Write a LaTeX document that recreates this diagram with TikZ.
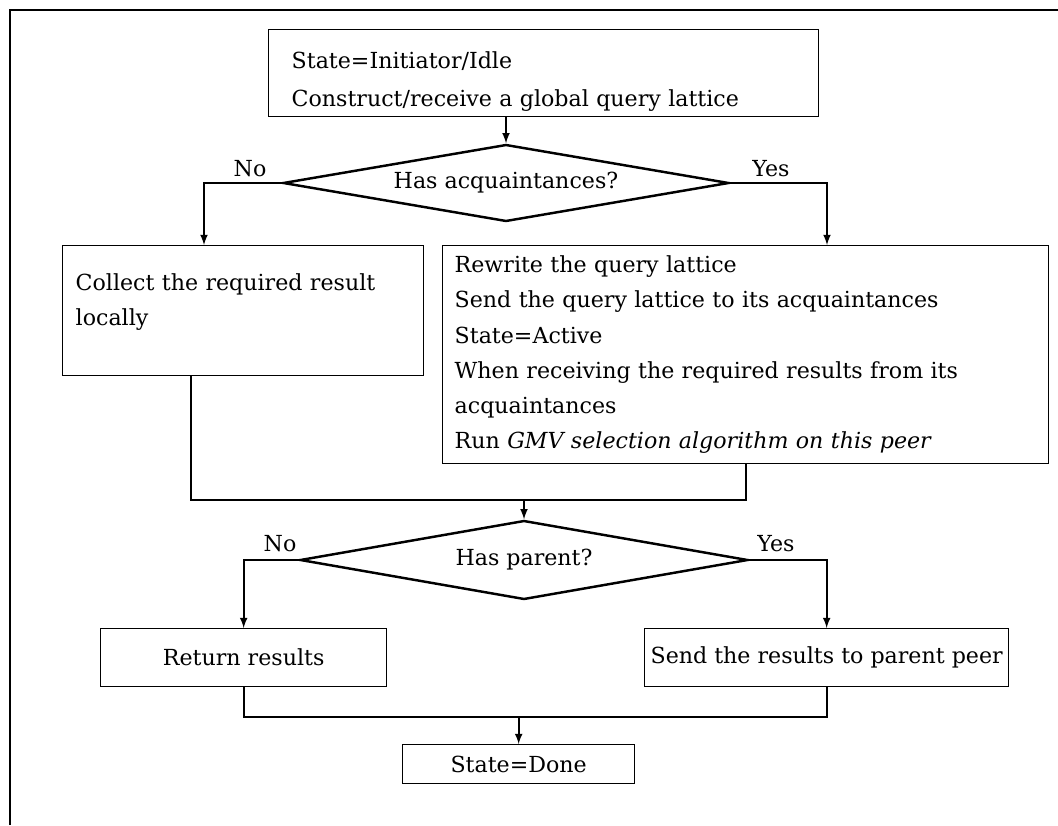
\documentclass[tikz,border=0pt]{standalone}
\usepackage{fontspec}
\setmainfont{DejaVu Serif}
\usetikzlibrary{positioning, shapes.geometric, arrows}

\begin{document}
\begin{tikzpicture}[x=0.02cm, y=-0.02cm,
  box/.style = {draw, line width=0.8pt, anchor=north west, align=left, inner sep=0pt, font=\fontsize{12.6}{20}\selectfont},
  dec/.style = {draw, diamond, aspect=6, line width=1.4pt, inner sep=0pt, font=\fontsize{12.6}{20}\selectfont},
  lbl/.style = {font=\fontsize{12.6}{20}\selectfont},
  line width=1pt ]

\useasboundingbox (0,0) rectangle (1058,825);

%--- Frame ---
\draw[line width=1.5pt] (10,825) -- (10,10) -- (1058,10);

%--- Nodes ---
% init
\node[box, text width=10.08cm, inner xsep=0.46cm, minimum height=1.74cm, font=\fontsize{12.6}{21.5}\selectfont] (init) at (268,29)
  {\rule{0pt}{19pt}State=Initiator/Idle\\Construct/receive a global query lattice};

% acq
\node[dec, minimum width=8.92cm, minimum height=1.54cm] (acq) at (506,183) {Has acquaintances?};

% local
\node[box, text width=6.7cm, inner xsep=0.26cm, minimum height=2.6cm] (local) at (62,245)
  {Collect the required result\\locally\rule[-13pt]{0pt}{0pt}};

% remote
\node[box, text width=11.64cm, inner xsep=0.24cm, minimum height=4.36cm] (remote) at (442,245)
  {Rewrite the query lattice\\
   Send the query lattice to its acquaintances\\
   State=Active\\
   When receiving the required results from its\\
   acquaintances\\
   Run \textit{GMV selection algorithm on this peer}};

% parent
\node[dec, minimum width=8.96cm, minimum height=1.58cm] (parent) at (524,560) {Has parent?};

% ret
\node[box, align=center, minimum width=5.72cm, minimum height=1.16cm] (ret) at (100,628) {Return results};

% send
\node[box, align=center, minimum width=7.28cm, minimum height=1.16cm] (send) at (644,628) {Send the results to parent peer};

% done
\node[box, align=center, minimum width=4.64cm, minimum height=0.78cm] (done) at (402,744) {State=Done};

%--- Labels ---
\node[lbl] (no1)  at (250,169) {No};
\node[lbl] (yes1) at (771,169) {Yes};
\node[lbl] (no2)  at (280,544) {No};
\node[lbl] (yes2) at (776,544) {Yes};

%--- init -> acq ---
\draw[-latex] (init.south -| acq.north) -- (acq.north);

%--- acq -> local / remote ---
\coordinate (noDrop) at (204,183);
\coordinate (yesDrop) at (827,183);
\draw[-latex] (acq.west) -- (noDrop) -- (noDrop |- local.north);
\draw[-latex] (acq.east) -- (yesDrop) -- (yesDrop |- remote.north);

%--- local, remote -> parent ---
\coordinate (joinA) at (191,500);
\draw (joinA |- local.south) -- (joinA) -- (joinA -| remote.south) -- (remote.south);
\draw[-latex] (joinA -| parent.north) -- (parent.north);

%--- parent -> ret / send ---
\draw[-latex] (parent.west) -| (ret.north);
\draw[-latex] (parent.east) -| (send.north);

%--- ret, send -> done ---
\coordinate (joinB) at (0,717);
\draw (ret.south) -- (ret.south |- joinB) -- (send.south |- joinB) -- (send.south);
\draw[-latex] (done.north |- joinB) -- (done.north);

\end{tikzpicture}
\end{document}
